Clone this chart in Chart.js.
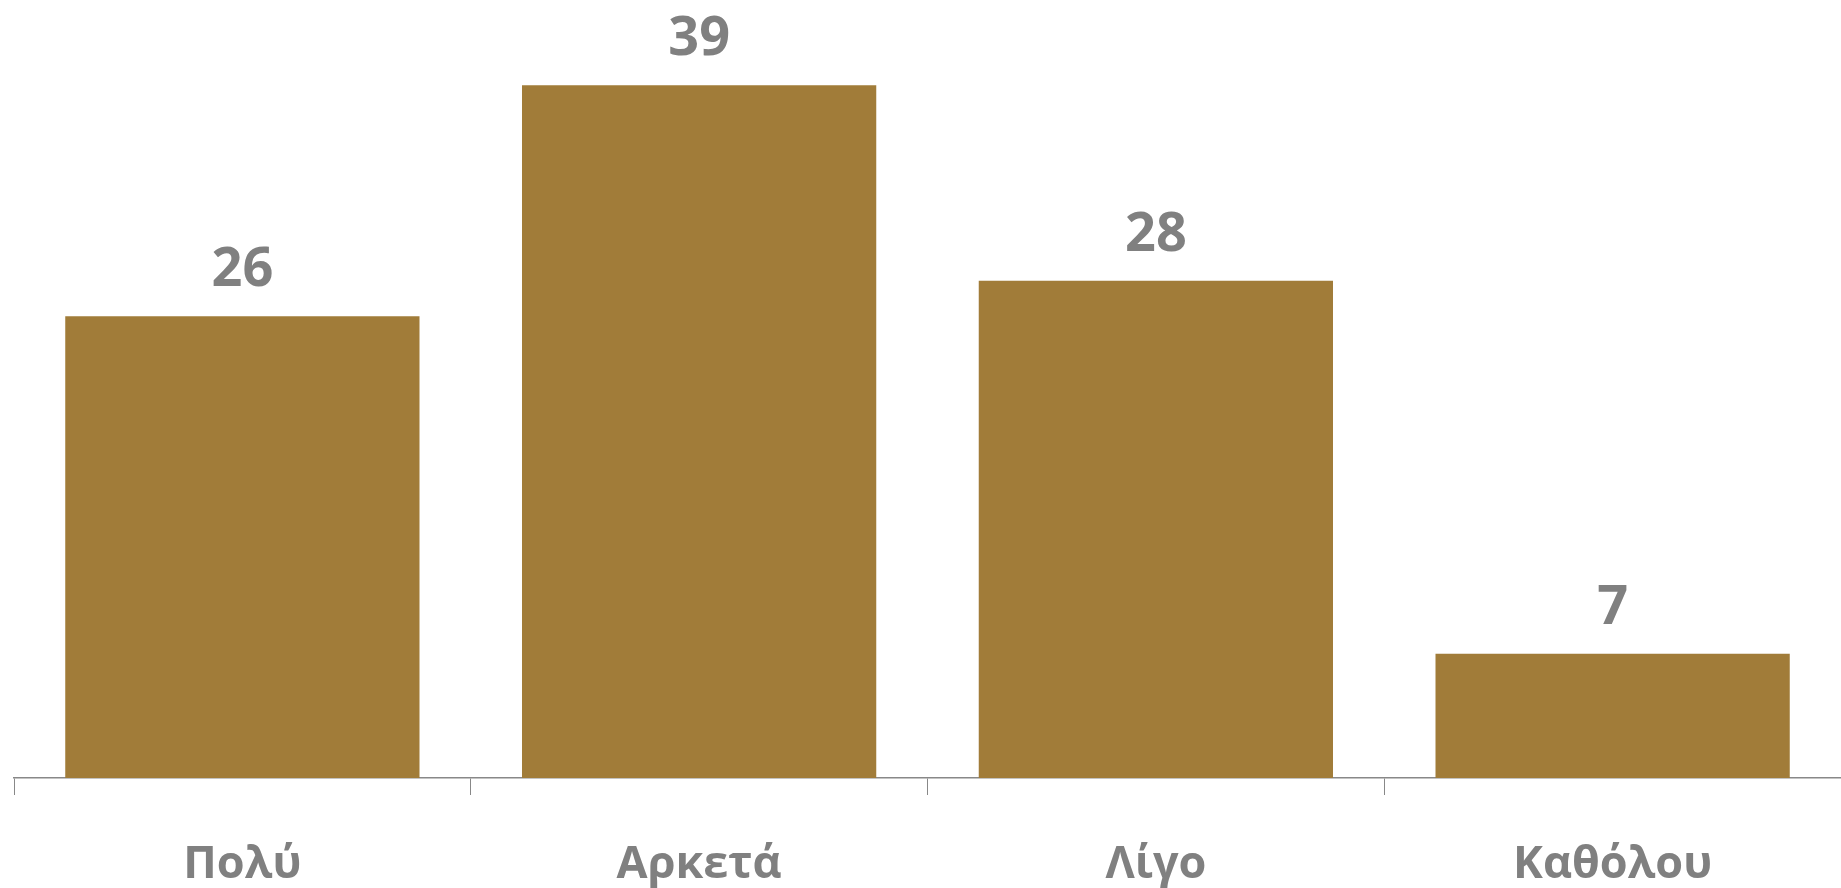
<!DOCTYPE html>
<html>
<head>
<meta charset="utf-8">
<script src="https://cdn.jsdelivr.net/npm/chart.js@4"></script>
<style>
    html, body { margin: 0; padding: 0; background: #ffffff; }
    #wrap { width: 1841px; height: 888px; }
</style>
</head>
<body>
<div id="wrap"><canvas id="chart"></canvas></div>
<script>
// Datos del gráfico
const categories = ["Πολύ", "Αρκετά", "Λίγο", "Καθόλου"];
const values = [26, 39, 28, 7];

const barColor = "#a17c39";
const textColor = "#808080";
const axisColor = "#888888";

// Etiquetas de valor encima de cada barra
const valueLabels = {
    id: "valueLabels",
    afterDatasetsDraw(chart) {
        const ctx = chart.ctx;
        const meta = chart.getDatasetMeta(0);
        ctx.save();
        ctx.font = "bold 54px 'Open Sans'";
        ctx.fillStyle = textColor;
        ctx.textAlign = "center";
        ctx.textBaseline = "alphabetic";
        meta.data.forEach((bar, i) => {
            ctx.fillText(values[i], bar.x, bar.y - 30);
        });
        ctx.restore();
    }
};

const ctx = document.getElementById("chart").getContext("2d");
new Chart(ctx, {
    type: "bar",
    data: {
        labels: categories,
        datasets: [{
            data: values,
            backgroundColor: barColor,
            borderWidth: 0,
            categoryPercentage: 1,
            barPercentage: 0.7756
        }]
    },
    options: {
        responsive: true,
        maintainAspectRatio: false,
        animation: false,
        // el área del gráfico sobrepasa un poco el borde derecho
        layout: { padding: { left: 14, right: -4, top: 0, bottom: 0 } },
        plugins: {
            legend: { display: false },
            tooltip: { enabled: false }
        },
        scales: {
            x: {
                // altura fija del eje para que la línea quede en y=778
                afterFit(scale) {
                    scale.height = 110;
                },
                grid: {
                    display: true,
                    drawOnChartArea: false,
                    drawTicks: true,
                    tickLength: 17,
                    color: axisColor,
                    lineWidth: 1,
                    offset: true
                },
                border: { display: true, color: axisColor, width: 1.5 },
                ticks: {
                    color: textColor,
                    padding: 43,
                    font: { family: "'Open Sans'", size: 45, weight: "bold" }
                }
            },
            y: {
                display: false,
                min: 0,
                max: 43.8
            }
        }
    },
    plugins: [valueLabels]
});
</script>
</body>
</html>
